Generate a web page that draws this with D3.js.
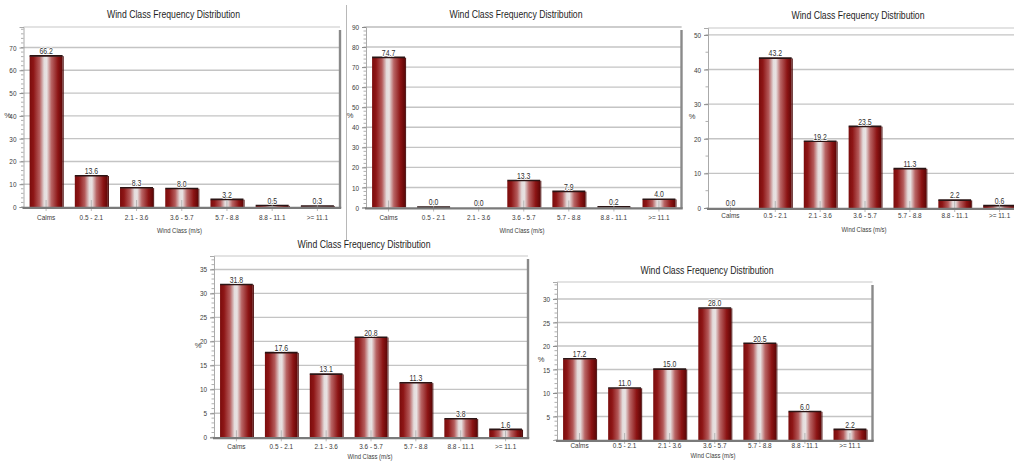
<!DOCTYPE html>
<html>
<head>
<meta charset="utf-8">
<script src="https://cdn.jsdelivr.net/npm/d3@7"></script>
<style>
  html, body { margin: 0; padding: 0; background: #fff; }
  svg { display: block; font-family: "Liberation Sans", Arial, sans-serif; }
</style>
</head>
<body>
<svg id="chart" width="1014" height="461"></svg>
<script>
// five wind class frequency charts, same categories, different stations

const windClasses = ['Calms', '0.5 - 2.1', '2.1 - 3.6', '3.6 - 5.7', '5.7 - 8.8', '8.8 - 11.1', '>= 11.1'];

const freqA = [66.2, 13.6, 8.3, 8.0, 3.2, 0.5, 0.3];
const freqB = [74.7, 0.04, 0.0, 13.3, 7.9, 0.2, 4.0];
const freqC = [0.0, 43.2, 19.2, 23.5, 11.3, 2.2, 0.6];
const freqD = [31.8, 17.6, 13.1, 20.8, 11.3, 3.8, 1.6];
const freqE = [17.2, 11.0, 15.0, 28.0, 20.5, 6.0, 2.2];

const ticksA = [0, 10, 20, 30, 40, 50, 60, 70];
const ticksB = [0, 10, 20, 30, 40, 50, 60, 70, 80, 90];
const ticksC = [0, 10, 20, 30, 40, 50];
const ticksD = [0, 5, 10, 15, 20, 25, 30, 35];
const ticksE = [5, 10, 15, 20, 25, 30];

const yMax = [79, 90, 52, 37.8, 33.6];
const minorStep = [2, 2, 5, 1, 1];

const TITLE = 'Wind Class Frequency Distribution';
const X_TITLE = 'Wind Class (m/s)';

// plot rectangles in page pixels; labelY = gap from axis to tick label top
const panels = [
  { values: freqA, ticks: ticksA, box: { l: 23.5, t: 27, r: 340, b: 207 }, titleY: 18, labelY: 7.5, xTitleY: 232.5 },
  { values: freqB, ticks: ticksB, box: { l: 366, t: 27, r: 681.5, b: 207.5 }, titleY: 18, labelY: 7, xTitleY: 232.5 },
  { values: freqC, ticks: ticksC, box: { l: 708, t: 28, r: 1022, b: 208 }, titleY: 19, labelY: 4.5, xTitleY: 231.5 },
  { values: freqD, ticks: ticksD, box: { l: 214, t: 256, r: 528, b: 437.3 }, titleY: 248, labelY: 6, xTitleY: 458.5 },
  { values: freqE, ticks: ticksE, box: { l: 557, t: 282, r: 872.5, b: 440 }, titleY: 274, labelY: 2.8, xTitleY: 458.3 },
];

const svg = d3.select('#chart');
const defs = svg.append('defs');

const grad = defs.append('linearGradient').attr('id', 'barGrad')
  .attr('x1', '0%').attr('x2', '100%').attr('y1', '0%').attr('y2', '0%');
[
  ['0%', '#7a0c0c'], ['12%', '#8e1616'], ['30%', '#b45a5a'], ['44%', '#e4dcdc'],
  ['52%', '#e8e2e2'], ['66%', '#b86464'], ['86%', '#8c1414'], ['100%', '#5e0606'],
].forEach(([o, c]) => grad.append('stop').attr('offset', o).attr('stop-color', c));

// separator between the two top-left charts
svg.append('line')
  .attr('x1', 346.5).attr('x2', 346.5).attr('y1', 5).attr('y2', 240)
  .attr('stroke', '#b8b8b8').attr('stroke-width', 1);

panels.forEach((p, i) => {
  const { l, t, r, b } = p.box;
  const g = svg.append('g');
  const rows = windClasses.map((c, k) => ({ c, v: p.values[k] }));

  const x = d3.scaleBand().domain(windClasses).range([l, r]).paddingInner(0.27).paddingOuter(0.135);
  const y = d3.scaleLinear().domain([0, yMax[i]]).range([b, t]);

  // gridlines
  g.append('g').selectAll('line').data(p.ticks.filter((d) => d > 0)).join('line')
    .attr('x1', l).attr('x2', r)
    .attr('y1', (d) => y(d)).attr('y2', (d) => y(d))
    .attr('stroke', '#c4c4c4').attr('stroke-width', 1.4);

  // frame: light top, dark shadow right
  g.append('line').attr('x1', l).attr('x2', r).attr('y1', t).attr('y2', t)
    .attr('stroke', '#c8c8c8').attr('stroke-width', 1.2);
  g.append('line').attr('x1', r).attr('x2', r).attr('y1', t + 3).attr('y2', b + 1)
    .attr('stroke', '#8a8a8a').attr('stroke-width', 2.4);

  // y axis
  const minor = d3.range(0, yMax[i] + 0.001, minorStep[i]);
  g.append('g').selectAll('line').data(minor).join('line')
    .attr('x1', l - 2.5).attr('x2', l)
    .attr('y1', (d) => y(d)).attr('y2', (d) => y(d))
    .attr('stroke', '#9a9a9a').attr('stroke-width', 0.8);
  const yAxis = g.append('g').attr('transform', `translate(${l},0)`)
    .call(d3.axisLeft(y).tickValues(p.ticks).tickSize(4).tickPadding(3).tickFormat(d3.format('d')));
  yAxis.select('.domain').attr('stroke', '#a0a0a0').attr('stroke-width', 0.9);
  yAxis.selectAll('.tick line').attr('stroke', '#8a8a8a');
  yAxis.selectAll('.tick text').attr('fill', '#3a3a3a').attr('font-size', 8)
    .attr('font-family', null).classed('narrow', true);

  // bars
  const bars = g.append('g').selectAll('g').data(rows).join('g');
  bars.append('rect')
    .attr('x', (d) => x(d.c))
    .attr('width', x.bandwidth())
    .attr('y', (d) => y(d.v))
    .attr('height', (d) => b - y(d.v))
    .attr('fill', 'url(#barGrad)');
  const filled = bars.filter((d) => d.v > 0);
  filled.append('line')
    .attr('x1', (d) => x(d.c)).attr('x2', (d) => x(d.c) + x.bandwidth())
    .attr('y1', (d) => y(d.v) - 0.3).attr('y2', (d) => y(d.v) - 0.3)
    .attr('stroke', '#2b1414').attr('stroke-width', 1.6);
  filled.append('line')
    .attr('x1', (d) => x(d.c) + x.bandwidth() + 0.6).attr('x2', (d) => x(d.c) + x.bandwidth() + 0.6)
    .attr('y1', (d) => y(d.v)).attr('y2', b)
    .attr('stroke', '#4a0a0a').attr('stroke-width', 1);

  // x axis (ticks drawn before the value labels so they sit underneath)
  const xAxis = g.append('g').attr('transform', `translate(0,${b})`)
    .call(d3.axisBottom(x).tickSize(4).tickPadding(p.labelY - 4));
  xAxis.select('.domain').remove();
  xAxis.selectAll('.tick line').attr('y1', -7).attr('stroke', '#a8a8a8').attr('stroke-width', 0.8);
  xAxis.selectAll('.tick text').attr('fill', '#3a3a3a').attr('font-size', 8)
    .attr('font-family', null).classed('narrow', true);
  g.append('line').attr('x1', l - 1).attr('x2', r + 1.2).attr('y1', b + 0.8).attr('y2', b + 0.8)
    .attr('stroke', '#7a7a7a').attr('stroke-width', 2.2);

  // value labels
  g.append('g').selectAll('text').data(rows).join('text')
    .attr('class', 'narrow')
    .attr('x', (d) => x(d.c) + x.bandwidth() / 2)
    .attr('y', (d) => y(d.v) - 2)
    .attr('text-anchor', 'middle')
    .attr('font-size', 8.6)
    .attr('fill', '#2e2e2e')
    .attr('stroke', '#fff').attr('stroke-width', 1.6).attr('paint-order', 'stroke')
    .text((d) => d.v.toFixed(1));

  // titles
  g.append('text')
    .attr('x', l + 150)
    .attr('y', p.titleY)
    .attr('text-anchor', 'middle')
    .attr('font-size', 11)
    .attr('fill', '#1e1e1e')
    .attr('textLength', 133).attr('lengthAdjust', 'spacingAndGlyphs')
    .text(TITLE);
  g.append('text')
    .attr('x', l + 156)
    .attr('y', p.xTitleY)
    .attr('text-anchor', 'middle')
    .attr('font-size', 7.4)
    .attr('fill', '#3a3a3a')
    .attr('textLength', 45).attr('lengthAdjust', 'spacingAndGlyphs')
    .text(X_TITLE);
  g.append('text')
    .attr('x', l - 16)
    .attr('y', (t + b) / 2 + 1)
    .attr('text-anchor', 'middle')
    .attr('font-size', 7.5)
    .attr('fill', '#3a3a3a')
    .text('%');
});

// squeeze the small labels to a narrow face, like the original charts
svg.selectAll('text.narrow').each(function () {
  const w = this.getComputedTextLength();
  if (w > 0) {
    d3.select(this).attr('textLength', w * 0.8).attr('lengthAdjust', 'spacingAndGlyphs');
  }
});
</script>
</body>
</html>
